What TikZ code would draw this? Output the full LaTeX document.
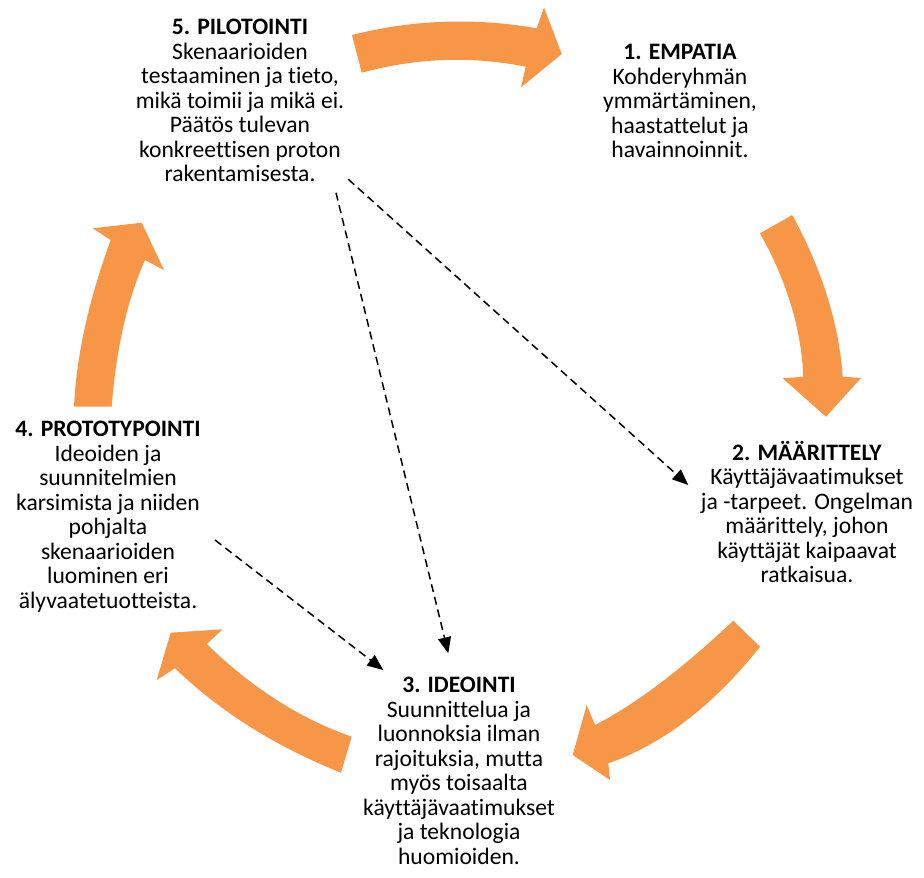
\documentclass[tikz,border=0pt]{standalone}
\usepackage{fontspec}
\setmainfont{Carlito}[Ligatures=NoCommon]
\usetikzlibrary{arrows.meta}
\definecolor{cycleorange}{HTML}{F79646}
\tikzset{
  phase/.style={align=center, inner sep=0pt, anchor=base,
    font=\fontsize{23.6}{24.5}\selectfont},
  cyclearrow/.style={fill=cycleorange, draw=none},
  jump/.style={draw=black, line width=1.5pt, dash pattern=on 8pt off 5pt,
    -{Triangle[length=16pt,width=13pt]}}
}
\begin{document}
\begin{tikzpicture}[x=1pt,y=-1pt]
\useasboundingbox (0,0) rectangle (924,878);

% phase texts (placed by the baseline of their last line)
\node[phase] (pilot) at (240,181.5) {\textbf{5. PILOTOINTI}\\Skenaarioiden\\testaaminen ja tieto,\\mikä toimii ja mikä ei.\\Päätös tulevan\\konkreettisen proton\\rakentamisesta.};
\node[phase] (empatia) at (680,157.5) {\textbf{1. EMPATIA}\\Kohderyhmän\\ymmärtäminen,\\haastattelut ja\\havainnoinnit.};
\node[phase] (maar) at (807,582.5) {\textbf{2. MÄÄRITTELY}\\Käyttäjävaatimukset\\ja -tarpeet. Ongelman\\määrittely, johon\\käyttäjät kaipaavat\\ratkaisua.};
\node[phase] (ideo) at (459,864) {\textbf{3. IDEOINTI}\\Suunnittelua ja\\luonnoksia ilman\\rajoituksia, mutta\\myös toisaalta\\käyttäjävaatimukset\\ja teknologia\\huomioiden.};
\node[phase] (proto) at (108,608.2) {\textbf{4. PROTOTYPOINTI}\\Ideoiden ja\\suunnitelmien\\karsimista ja niiden\\pohjalta\\skenaarioiden\\luominen eri\\älyvaatetuotteista.};

% curved block arrows of the cycle
% 5 -> 1
\path[cyclearrow] (352,35) .. controls (413,19.6) and (474.7,17.4) .. (536.7,28.3)
  -- (544,7.3) -- (561.7,54) -- (521,87.3) -- (525.7,66.7)
  .. controls (471.4,55.8) and (416.8,57.8) .. (361.7,72.7) -- cycle;
% 1 -> 2
\path[cyclearrow] (760,233.3) .. controls (786.9,281.1) and (801.3,328.9) .. (803.3,376.7)
  -- (782.7,378.3) -- (826,416.7) -- (861,378) -- (842.7,376.7)
  .. controls (839,323.9) and (822.2,270) .. (792.3,215) -- cycle;
% 2 -> 3
\path[cyclearrow] (733.3,620.7) .. controls (681.7,669.4) and (635.6,704.2) .. (595,725)
  -- (586.7,705) -- (572.7,755) -- (610,780) -- (608.3,763.3)
  .. controls (662.3,744.4) and (712.8,706.2) .. (760,646.7) -- cycle;
% 3 -> 4
\path[cyclearrow] (351.7,736.7) .. controls (300,718.7) and (251.7,687.8) .. (206.7,644)
  -- (222.7,629.3) -- (170.7,632.7) -- (156.7,680) -- (175,668.3)
  .. controls (219.7,711.4) and (275,746.2) .. (341,772.7) -- cycle;
% 4 -> 5
\path[cyclearrow] (74,406.7) .. controls (76.4,355.6) and (88.7,300) .. (110.7,240)
  -- (92.7,228.3) -- (141.7,222.7) -- (164,270) -- (145,260)
  .. controls (127.2,300) and (116.1,348.9) .. (111.7,406.7) -- cycle;

% shortcut links
\coordinate (pilotA) at (348.3,179.3);
\coordinate (pilotB) at (336,192.7);
\coordinate (protoA) at (215,540);
\coordinate (maarIn) at (688.3,485);
\coordinate (ideoInA) at (448.3,653.3);
\coordinate (ideoInB) at (383.3,670);
\draw[jump] (pilotA) -- (maarIn);
\draw[jump] (pilotB) -- (ideoInA);
\draw[jump] (protoA) -- (ideoInB);
\end{tikzpicture}
\end{document}
